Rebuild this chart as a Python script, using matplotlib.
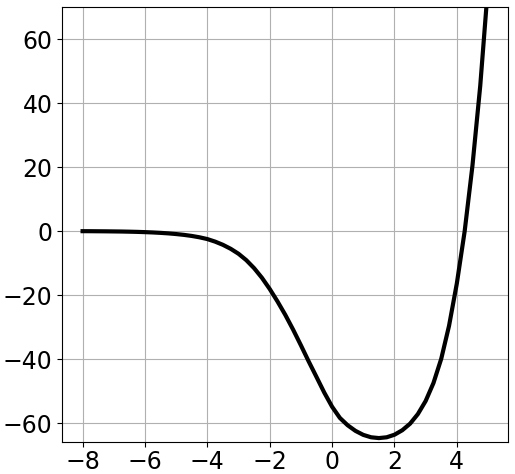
import matplotlib
matplotlib.use("Agg")
import matplotlib.pyplot as plt

# curve values, step 0.25 in x
x_vals = [-8.0, -7.75, -7.5, -7.25, -7.0, -6.75, -6.5, -6.25, -6.0, -5.75,
          -5.5, -5.25, -5.0, -4.75, -4.5, -4.25, -4.0, -3.75, -3.5, -3.25,
          -3.0, -2.75, -2.5, -2.25, -2.0, -1.75, -1.5, -1.25, -1.0, -0.75,
          -0.5, -0.25, 0.0, 0.25, 0.5, 0.75, 1.0, 1.25, 1.5, 1.75,
          2.0, 2.25, 2.5, 2.75, 3.0, 3.25, 3.5, 3.75, 4.0, 4.25,
          4.5, 4.75, 5.0]
y_vals = [-0.03, -0.04, -0.06, -0.08, -0.11, -0.14, -0.19, -0.25, -0.33, -0.43,
          -0.56, -0.72, -0.93, -1.19, -1.52, -1.95, -2.5, -3.3, -4.3, -5.55,
          -7.1, -9.1, -11.6, -14.6, -18.1, -22.0, -26.2, -30.8, -35.7, -40.75,
          -45.6, -50.5, -54.9, -58.4, -60.7, -62.45, -63.7, -64.45, -64.7, -64.45,
          -63.65, -62.25, -60.2, -57.2, -53.1, -47.5, -39.9, -29.6, -16.35, -0.1,
          20.4, 45.4, 76.65]

fig = plt.figure(figsize=(5.15, 4.74), dpi=100)
ax = fig.add_axes([0.121, 0.067, 0.866, 0.918])
ax.plot(x_vals, y_vals, color="black", lw=3)
ax.set_xlim(-8.65, 5.65)
ax.set_ylim(-66, 70)
ax.set_xticks([-8, -6, -4, -2, 0, 2, 4])
ax.set_yticks([-60, -40, -20, 0, 20, 40, 60])
ax.tick_params(labelsize=17)
ax.tick_params(axis="x", pad=2)
ax.grid(True)
fig.savefig("out.png", dpi=100)
